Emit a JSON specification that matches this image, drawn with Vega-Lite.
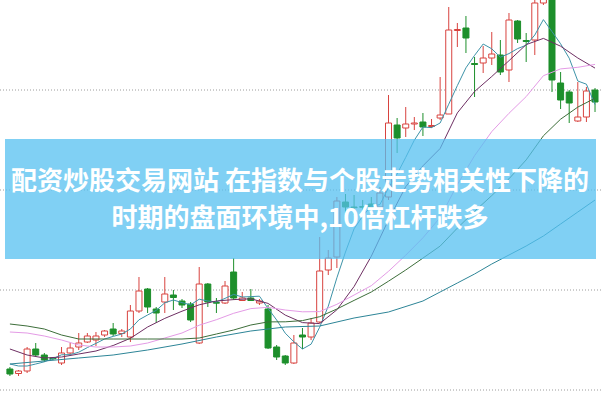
{
  "$schema": "https://vega.github.io/schema/vega-lite/v6.json",
  "width": 601,
  "height": 401,
  "padding": 0,
  "autosize": {"type": "none"},
  "background": "#ffffff",
  "config": {"view": {"stroke": null}},
  "datasets": {
    "candles": [
      {"i":0,"o":12.1,"c":11.6,"h":12.3,"l":11.4},
      {"i":1,"o":11.65,"c":11.9,"h":12.0,"l":11.4},
      {"i":2,"o":11.9,"c":14.1,"h":14.3,"l":11.7},
      {"i":3,"o":14.1,"c":13.5,"h":14.7,"l":13.3},
      {"i":4,"o":13.5,"c":13.0,"h":13.7,"l":12.8},
      {"i":5,"o":13.2,"c":13.12,"h":13.3,"l":13.0},
      {"i":6,"o":12.7,"c":13.7,"h":14.3,"l":12.5},
      {"i":7,"o":13.7,"c":14.2,"h":14.7,"l":13.6},
      {"i":8,"o":14.3,"c":14.7,"h":15.7,"l":14.0},
      {"i":9,"o":14.8,"c":15.4,"h":15.7,"l":14.7},
      {"i":10,"o":15.0,"c":15.4,"h":15.8,"l":14.4},
      {"i":11,"o":15.5,"c":15.9,"h":16.0,"l":15.3},
      {"i":12,"o":16.1,"c":15.6,"h":16.7,"l":15.4},
      {"i":13,"o":15.65,"c":15.9,"h":16.1,"l":15.3},
      {"i":14,"o":15.3,"c":17.9,"h":18.5,"l":14.8},
      {"i":15,"o":17.9,"c":19.9,"h":21.3,"l":17.7},
      {"i":16,"o":20.1,"c":18.3,"h":20.2,"l":17.7},
      {"i":17,"o":18.1,"c":17.7,"h":18.3,"l":16.7},
      {"i":18,"o":18.8,"c":19.6,"h":21.3,"l":17.7},
      {"i":19,"o":19.5,"c":19.25,"h":20.0,"l":18.0},
      {"i":20,"o":18.9,"c":18.5,"h":19.1,"l":18.2},
      {"i":21,"o":18.6,"c":17.0,"h":18.8,"l":16.8},
      {"i":22,"o":14.7,"c":20.6,"h":22.3,"l":14.6},
      {"i":23,"o":20.6,"c":18.8,"h":20.7,"l":18.3},
      {"i":24,"o":18.75,"c":18.68,"h":19.2,"l":17.7},
      {"i":25,"o":18.7,"c":20.4,"h":20.9,"l":18.6},
      {"i":26,"o":21.8,"c":19.2,"h":23.2,"l":19.0},
      {"i":27,"o":18.95,"c":19.2,"h":19.8,"l":18.9},
      {"i":28,"o":19.2,"c":18.95,"h":20.1,"l":18.9},
      {"i":29,"o":18.7,"c":18.9,"h":19.1,"l":18.5},
      {"i":30,"o":18.1,"c":14.2,"h":18.5,"l":14.1},
      {"i":31,"o":14.3,"c":13.3,"h":14.5,"l":13.0},
      {"i":32,"o":13.4,"c":12.7,"h":13.5,"l":12.5},
      {"i":33,"o":12.7,"c":14.7,"h":15.5,"l":12.6},
      {"i":34,"o":15.5,"c":15.3,"h":16.2,"l":14.1},
      {"i":35,"o":15.3,"c":16.7,"h":17.2,"l":15.0},
      {"i":36,"o":16.8,"c":21.9,"h":25.3,"l":16.7},
      {"i":37,"o":22.0,"c":23.2,"h":24.0,"l":21.5},
      {"i":38,"o":23.3,"c":28.9,"h":29.3,"l":22.2},
      {"i":39,"o":28.8,"c":28.3,"h":29.6,"l":27.7},
      {"i":40,"o":28.3,"c":28.23,"h":29.5,"l":27.5},
      {"i":41,"o":28.35,"c":28.27,"h":29.0,"l":27.7},
      {"i":42,"o":28.6,"c":28.1,"h":29.3,"l":27.3},
      {"i":43,"o":28.3,"c":29.7,"h":30.3,"l":27.7},
      {"i":44,"o":29.3,"c":36.7,"h":39.5,"l":29.0},
      {"i":45,"o":36.5,"c":35.2,"h":37.2,"l":33.7},
      {"i":46,"o":36.2,"c":36.6,"h":38.3,"l":35.3},
      {"i":47,"o":36.6,"c":36.7,"h":37.3,"l":36.0},
      {"i":48,"o":36.8,"c":36.3,"h":37.7,"l":35.4},
      {"i":49,"o":36.35,"c":36.45,"h":37.1,"l":36.2},
      {"i":50,"o":37.2,"c":37.5,"h":41.3,"l":37.0},
      {"i":51,"o":37.6,"c":46.0,"h":48.3,"l":37.6},
      {"i":52,"o":45.95,"c":46.05,"h":46.7,"l":44.3},
      {"i":53,"o":46.2,"c":45.2,"h":47.4,"l":43.7},
      {"i":54,"o":42.65,"c":42.55,"h":43.3,"l":39.3},
      {"i":55,"o":42.7,"c":43.2,"h":44.4,"l":41.7},
      {"i":56,"o":43.2,"c":43.6,"h":45.8,"l":42.5},
      {"i":57,"o":43.5,"c":41.8,"h":45.0,"l":41.5},
      {"i":58,"o":42.0,"c":47.0,"h":47.7,"l":40.8},
      {"i":59,"o":46.9,"c":45.1,"h":47.0,"l":44.7},
      {"i":60,"o":44.95,"c":44.85,"h":45.7,"l":42.8},
      {"i":61,"o":45.0,"c":48.7,"h":49.2,"l":43.5},
      {"i":62,"o":48.7,"c":49.5,"h":50.0,"l":48.5},
      {"i":63,"o":49.3,"c":41.0,"h":49.5,"l":39.8},
      {"i":64,"o":40.7,"c":39.0,"h":41.8,"l":38.1},
      {"i":65,"o":39.8,"c":38.7,"h":40.0,"l":36.7},
      {"i":66,"o":36.9,"c":37.3,"h":40.8,"l":36.8},
      {"i":67,"o":37.3,"c":39.9,"h":40.3,"l":36.8},
      {"i":68,"o":40.0,"c":38.8,"h":40.2,"l":37.8}
    ],
    "ma": [
      {"i":0,"k":"MA5","v":12.6},{"i":1,"k":"MA5","v":12.4},{"i":2,"k":"MA5","v":12.4},{"i":3,"k":"MA5","v":12.6},{"i":4,"k":"MA5","v":12.82},
      {"i":5,"k":"MA5","v":13.14},{"i":6,"k":"MA5","v":13.52},{"i":7,"k":"MA5","v":13.54},{"i":8,"k":"MA5","v":13.78},{"i":9,"k":"MA5","v":14.24},
      {"i":10,"k":"MA5","v":14.66},{"i":11,"k":"MA5","v":15.1},{"i":12,"k":"MA5","v":15.36},{"i":13,"k":"MA5","v":15.6},{"i":14,"k":"MA5","v":16.1},
      {"i":15,"k":"MA5","v":17.02},{"i":16,"k":"MA5","v":17.5},{"i":17,"k":"MA5","v":17.96},{"i":18,"k":"MA5","v":18.72},{"i":19,"k":"MA5","v":19.0},
      {"i":20,"k":"MA5","v":18.74},{"i":21,"k":"MA5","v":18.52},{"i":22,"k":"MA5","v":19.08},{"i":23,"k":"MA5","v":18.9},{"i":24,"k":"MA5","v":18.8},
      {"i":25,"k":"MA5","v":19.16},{"i":26,"k":"MA5","v":19.56},{"i":27,"k":"MA5","v":19.3},{"i":28,"k":"MA5","v":19.34},{"i":29,"k":"MA5","v":19.38},
      {"i":30,"k":"MA5","v":18.16},{"i":31,"k":"MA5","v":17.0},{"i":32,"k":"MA5","v":15.68},{"i":33,"k":"MA5","v":14.82},{"i":34,"k":"MA5","v":14.1},
      {"i":35,"k":"MA5","v":14.58},{"i":36,"k":"MA5","v":16.28},{"i":37,"k":"MA5","v":18.38},{"i":38,"k":"MA5","v":21.22},{"i":39,"k":"MA5","v":23.8},
      {"i":40,"k":"MA5","v":26.12},{"i":41,"k":"MA5","v":27.4},{"i":42,"k":"MA5","v":28.38},{"i":43,"k":"MA5","v":28.54},{"i":44,"k":"MA5","v":30.22},
      {"i":45,"k":"MA5","v":31.6},{"i":46,"k":"MA5","v":33.26},{"i":47,"k":"MA5","v":34.98},{"i":48,"k":"MA5","v":36.3},{"i":49,"k":"MA5","v":36.24},
      {"i":50,"k":"MA5","v":36.7},{"i":51,"k":"MA5","v":38.58},{"i":52,"k":"MA5","v":40.44},{"i":53,"k":"MA5","v":42.22},{"i":54,"k":"MA5","v":43.46},
      {"i":55,"k":"MA5","v":44.6},{"i":56,"k":"MA5","v":44.12},{"i":57,"k":"MA5","v":43.28},{"i":58,"k":"MA5","v":43.64},{"i":59,"k":"MA5","v":44.14},
      {"i":60,"k":"MA5","v":44.48},{"i":61,"k":"MA5","v":45.5},{"i":62,"k":"MA5","v":47.04},{"i":63,"k":"MA5","v":45.84},{"i":64,"k":"MA5","v":44.62},
      {"i":65,"k":"MA5","v":43.18},{"i":66,"k":"MA5","v":40.9},{"i":67,"k":"MA5","v":40.58},{"i":68,"k":"MA5","v":38.54},

      {"i":0,"k":"MA10","v":14.1},{"i":2,"k":"MA10","v":13.5},{"i":4,"k":"MA10","v":13.2},{"i":6,"k":"MA10","v":13.3},{"i":8,"k":"MA10","v":13.6},
      {"i":10,"k":"MA10","v":13.9},{"i":12,"k":"MA10","v":14.45},{"i":14,"k":"MA10","v":15.17},{"i":16,"k":"MA10","v":16.3},{"i":18,"k":"MA10","v":17.16},
      {"i":20,"k":"MA10","v":17.88},{"i":22,"k":"MA10","v":18.52},{"i":24,"k":"MA10","v":18.9},{"i":26,"k":"MA10","v":19.04},{"i":28,"k":"MA10","v":19.12},
      {"i":30,"k":"MA10","v":18.66},{"i":32,"k":"MA10","v":17.49},{"i":34,"k":"MA10","v":16.74},{"i":36,"k":"MA10","v":16.64},{"i":38,"k":"MA10","v":18.02},
      {"i":40,"k":"MA10","v":20.35},{"i":42,"k":"MA10","v":23.38},{"i":44,"k":"MA10","v":27.01},{"i":46,"k":"MA10","v":30.33},{"i":48,"k":"MA10","v":32.42},
      {"i":50,"k":"MA10","v":34.15},{"i":52,"k":"MA10","v":37.71},{"i":54,"k":"MA10","v":39.85},{"i":56,"k":"MA10","v":41.35},{"i":58,"k":"MA10","v":42.93},
      {"i":60,"k":"MA10","v":44.54},{"i":62,"k":"MA10","v":45.16},{"i":64,"k":"MA10","v":44.38},{"i":66,"k":"MA10","v":43.2},{"i":68,"k":"MA10","v":42.19},

      {"i":0,"k":"MA20","v":15.8},{"i":2,"k":"MA20","v":15.7},{"i":4,"k":"MA20","v":15.4},{"i":6,"k":"MA20","v":15.0},{"i":8,"k":"MA20","v":14.5},
      {"i":10,"k":"MA20","v":14.3},{"i":12,"k":"MA20","v":14.3},{"i":14,"k":"MA20","v":14.4},{"i":16,"k":"MA20","v":14.7},{"i":18,"k":"MA20","v":15.2},
      {"i":20,"k":"MA20","v":15.7},{"i":22,"k":"MA20","v":16.48},{"i":24,"k":"MA20","v":17.03},{"i":26,"k":"MA20","v":17.67},{"i":28,"k":"MA20","v":18.14},
      {"i":30,"k":"MA20","v":18.27},{"i":32,"k":"MA20","v":18.0},{"i":34,"k":"MA20","v":17.82},{"i":36,"k":"MA20","v":17.84},{"i":38,"k":"MA20","v":18.57},
      {"i":40,"k":"MA20","v":19.5},{"i":42,"k":"MA20","v":20.43},{"i":44,"k":"MA20","v":21.87},{"i":46,"k":"MA20","v":23.48},{"i":48,"k":"MA20","v":25.22},
      {"i":50,"k":"MA20","v":27.25},{"i":52,"k":"MA20","v":30.54},{"i":54,"k":"MA20","v":33.43},{"i":56,"k":"MA20","v":35.84},{"i":58,"k":"MA20","v":37.67},
      {"i":60,"k":"MA20","v":39.34},{"i":62,"k":"MA20","v":41.43},{"i":64,"k":"MA20","v":42.11},{"i":66,"k":"MA20","v":42.27},{"i":68,"k":"MA20","v":42.56},

      {"i":0,"k":"MA30","v":16.6},{"i":2,"k":"MA30","v":16.4},{"i":4,"k":"MA30","v":16.1},{"i":6,"k":"MA30","v":15.5},{"i":8,"k":"MA30","v":15.1},
      {"i":10,"k":"MA30","v":15.1},{"i":12,"k":"MA30","v":15.1},{"i":14,"k":"MA30","v":15.1},{"i":16,"k":"MA30","v":15.1},{"i":18,"k":"MA30","v":15.1},
      {"i":20,"k":"MA30","v":15.1},{"i":22,"k":"MA30","v":15.2},{"i":24,"k":"MA30","v":15.6},{"i":26,"k":"MA30","v":16.0},{"i":28,"k":"MA30","v":16.5},
      {"i":30,"k":"MA30","v":16.81},{"i":32,"k":"MA30","v":16.82},{"i":34,"k":"MA30","v":16.94},{"i":36,"k":"MA30","v":17.33},{"i":38,"k":"MA30","v":18.1},
      {"i":40,"k":"MA30","v":18.96},{"i":42,"k":"MA30","v":19.8},{"i":44,"k":"MA30","v":20.88},{"i":46,"k":"MA30","v":22.0},{"i":48,"k":"MA30","v":23.19},
      {"i":50,"k":"MA30","v":24.39},{"i":52,"k":"MA30","v":26.19},{"i":54,"k":"MA30","v":27.87},{"i":56,"k":"MA30","v":29.44},{"i":58,"k":"MA30","v":31.12},
      {"i":60,"k":"MA30","v":33.01},{"i":62,"k":"MA30","v":35.42},{"i":64,"k":"MA30","v":37.08},{"i":66,"k":"MA30","v":38.29},{"i":68,"k":"MA30","v":39.18},

      {"i":0,"k":"MA60","v":12.6},{"i":4,"k":"MA60","v":12.9},{"i":8,"k":"MA60","v":13.2},{"i":12,"k":"MA60","v":13.5},{"i":16,"k":"MA60","v":14.0},
      {"i":20,"k":"MA60","v":14.6},{"i":24,"k":"MA60","v":15.3},{"i":28,"k":"MA60","v":15.9},{"i":32,"k":"MA60","v":16.3},{"i":36,"k":"MA60","v":16.4},
      {"i":40,"k":"MA60","v":17.2},{"i":44,"k":"MA60","v":17.8},{"i":48,"k":"MA60","v":18.9},{"i":50,"k":"MA60","v":19.8},{"i":52,"k":"MA60","v":20.7},
      {"i":54,"k":"MA60","v":21.6},{"i":56,"k":"MA60","v":22.6},{"i":58,"k":"MA60","v":23.5},{"i":60,"k":"MA60","v":24.4},{"i":62,"k":"MA60","v":25.4},
      {"i":64,"k":"MA60","v":26.6},{"i":66,"k":"MA60","v":27.8},{"i":68,"k":"MA60","v":29.0}
    ],
    "grid": [{"g":10},{"g":20},{"g":30},{"g":40}]
  },
  "layer": [
    {
      "data": {"name": "grid"},
      "mark": {"type": "rule", "stroke": "#9c9c9c", "strokeWidth": 1, "strokeDash": [1, 2]},
      "encoding": {
        "y": {"field": "g", "type": "quantitative", "scale": {"domain": [8.9, 49], "nice": false, "zero": false}, "axis": null}
      }
    },
    {
      "data": {"name": "candles"},
      "mark": {"type": "rule", "strokeWidth": 1, "clip": true},
      "encoding": {
        "x": {"field": "i", "type": "quantitative", "scale": {"domain": [-0.571, 68.114], "nice": false, "zero": false}, "axis": null},
        "y": {"field": "l", "type": "quantitative", "axis": null},
        "y2": {"field": "h"},
        "color": {"condition": {"test": "datum.c > datum.o", "value": "#d8433f"}, "value": "#1d8f2b"}
      }
    },
    {
      "data": {"name": "candles"},
      "mark": {"type": "bar", "width": 6, "strokeWidth": 1, "clip": true},
      "encoding": {
        "x": {"field": "i", "type": "quantitative", "axis": null},
        "y": {"field": "o", "type": "quantitative", "axis": null},
        "y2": {"field": "c"},
        "fill": {"condition": {"test": "datum.c > datum.o", "value": "#ffffff"}, "value": "#1d8f2b"},
        "stroke": {"condition": {"test": "datum.c > datum.o", "value": "#d8433f"}, "value": "#1d8f2b"}
      }
    },
    {
      "data": {"name": "ma"},
      "mark": {"type": "line", "strokeWidth": 1, "clip": true},
      "encoding": {
        "x": {"field": "i", "type": "quantitative", "axis": null},
        "y": {"field": "v", "type": "quantitative", "axis": null},
        "color": {"field": "k", "type": "nominal", "legend": null,
          "scale": {"domain": ["MA5", "MA10", "MA20", "MA30", "MA60"], "range": ["#3d93a8", "#6e2f63", "#e49be6", "#3d6e3a", "#2d8597"]}}
      }
    },
    {
      "data": {"values": [{"band": "title"}]},
      "mark": {"type": "rect", "fill": "#55c0f0", "opacity": 0.75, "clip": true},
      "encoding": {
        "x": {"datum": -0.571, "type": "quantitative"},
        "x2": {"datum": 68.114},
        "y": {"datum": 35.1, "type": "quantitative"},
        "y2": {"datum": 23.1}
      }
    },
    {
      "data": {"values": [{"t": "配资炒股交易网站 在指数与个股走势相关性下降的"}]},
      "mark": {"type": "text", "font": "Noto Sans CJK SC", "fontWeight": "bold", "fontSize": 26, "fill": "#ffffff", "align": "center", "baseline": "middle"},
      "encoding": {
        "x": {"datum": 33.71, "type": "quantitative"},
        "y": {"datum": 30.8, "type": "quantitative"},
        "text": {"field": "t"}
      }
    },
    {
      "data": {"values": [{"t": "时期的盘面环境中,10倍杠杆跌多"}]},
      "mark": {"type": "text", "font": "Noto Sans CJK SC", "fontWeight": "bold", "fontSize": 26, "fill": "#ffffff", "align": "center", "baseline": "middle"},
      "encoding": {
        "x": {"datum": 33.71, "type": "quantitative"},
        "y": {"datum": 27.1, "type": "quantitative"},
        "text": {"field": "t"}
      }
    }
  ]
}
